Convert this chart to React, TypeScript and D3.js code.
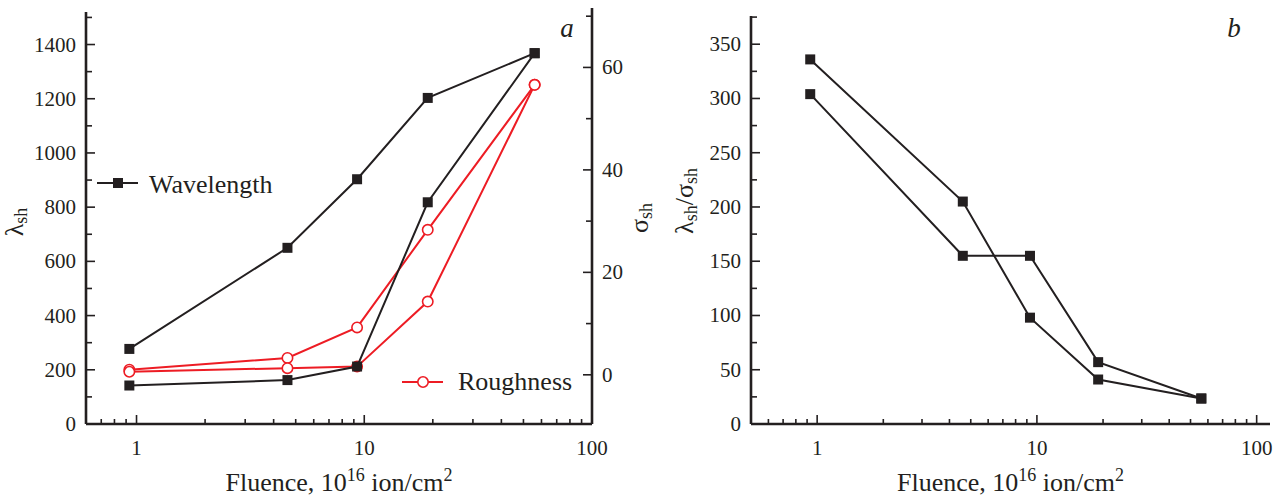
import React from "react";
import * as d3 from "d3";

// fluence, 10^16 ion/cm^2
const fluence = [0.93, 4.6, 9.3, 19, 56];

// panel a, left axis (wavelength)
const wavelengthUpper = [277, 650, 903, 1203, 1368];
const wavelengthLower = [142, 162, 212, 818, 1368];

// panel a, right axis (roughness)
const roughnessUpper = [1.0, 3.3, 9.25, 28.3, 56.6];
const roughnessLower = [0.6, 1.3, 1.6, 14.3, 56.6];

// panel b, ratio
const ratioUpper = [336, 205, 98, 41, 23.5];
const ratioLower = [304, 155, 155, 57, 23.5];

const leftTicksA = [0, 200, 400, 600, 800, 1000, 1200, 1400];
const leftMinorA = [100, 300, 500, 700, 900, 1100, 1300, 1500];
const rightTicksA = [0, 20, 40, 60];
const rightMinorA = [10, 30, 50, 70];
const ticksB = [0, 50, 100, 150, 200, 250, 300, 350];
const minorB = [25, 75, 125, 175, 225, 275, 325, 375];
const xMajor = [1, 10, 100];

const BLACK = "#231f20";
const RED = "#ed1c24";
const FONT = "'Liberation Serif', 'Times New Roman', serif";

function logMinor(lo: number, hi: number) {
  const out: number[] = [];
  for (let d = 0.1; d <= 100; d *= 10) {
    for (let k = 2; k <= 9; k++) {
      const v = +(k * d).toFixed(3);
      if (v > lo && v < hi && ![1, 10, 100].includes(v)) out.push(v);
    }
  }
  return out;
}

function Series({ x, y, vals, color, marker }: any) {
  const pts = fluence.map((f, i) => [x(f), y(vals[i])] as [number, number]);
  const line = d3.line();
  return (
    <g>
      <path d={line(pts) || ""} fill="none" stroke={color} strokeWidth={2} />
      {pts.map((p, i) =>
        marker === "square" ? (
          <rect key={i} x={p[0] - 5} y={p[1] - 5} width={10} height={10} fill={color} />
        ) : (
          <circle key={i} cx={p[0]} cy={p[1]} r={5.2} fill="#fff" stroke={color} strokeWidth={1.6} />
        )
      )}
    </g>
  );
}

function BottomAxis({ x, x0, x1, y0, minors }: any) {
  return (
    <g>
      <line x1={x0} x2={x1} y1={y0} y2={y0} stroke={BLACK} strokeWidth={2.6} />
      {minors.map((v: number) => (
        <line key={v} x1={x(v)} x2={x(v)} y1={y0} y2={y0 - 5} stroke={BLACK} strokeWidth={1.6} />
      ))}
      {xMajor.map((v) => (
        <g key={v}>
          <line x1={x(v)} x2={x(v)} y1={y0} y2={y0 - 9} stroke={BLACK} strokeWidth={1.6} />
          <text x={x(v)} y={455} textAnchor="middle" fontSize={21} fill={BLACK}>
            {v}
          </text>
        </g>
      ))}
      <text x={(x0 + x1) / 2} y={491} textAnchor="middle" fontSize={26} fill={BLACK}>
        Fluence, 10
        <tspan fontSize={18} dy={-10}>16</tspan>
        <tspan dy={10}> ion/cm</tspan>
        <tspan fontSize={18} dy={-10}>2</tspan>
      </text>
    </g>
  );
}

function VAxis({ y, x0, top, bottom, majors, minors, side }: any) {
  const dir = side === "left" ? 1 : -1;
  return (
    <g>
      <line x1={x0} x2={x0} y1={top} y2={bottom} stroke={BLACK} strokeWidth={2.6} />
      {minors.map((v: number) => (
        <line key={v} x1={x0} x2={x0 + dir * 6} y1={y(v)} y2={y(v)} stroke={BLACK} strokeWidth={1.6} />
      ))}
      {majors.map((v: number) => (
        <g key={v}>
          <line x1={x0} x2={x0 + dir * 9} y1={y(v)} y2={y(v)} stroke={BLACK} strokeWidth={1.6} />
          <text
            x={side === "left" ? x0 - 10 : x0 + 10}
            y={y(v) + 7}
            textAnchor={side === "left" ? "end" : "start"}
            fontSize={21}
            fill={BLACK}
          >
            {v}
          </text>
        </g>
      ))}
    </g>
  );
}

export default function App() {
  const bottom = 424;

  // panel a
  const xA = d3.scaleLog().domain([0.6, 100]).range([86, 592]);
  const yA = d3.scaleLinear().domain([0, 1520]).range([bottom, 12]);
  const yA2 = d3.scaleLinear().domain([-9.6, 71.6]).range([bottom, 8]);

  // panel b
  const xB = d3.scaleLog().domain([0.5, 115]).range([751, 1270]);
  const yB = d3.scaleLinear().domain([0, 376]).range([bottom, 16]);

  return (
    <svg width={1288} height={497} style={{ position: "absolute", left: 0, top: 0, fontFamily: FONT }}>
      <rect width={1288} height={497} fill="#fff" />

      {/* panel a */}
      <VAxis y={yA} x0={86} top={12} bottom={bottom} majors={leftTicksA} minors={leftMinorA} side="left" />
      <VAxis y={yA2} x0={592} top={8} bottom={bottom} majors={rightTicksA} minors={rightMinorA} side="right" />
      <BottomAxis x={xA} x0={86} x1={592} y0={bottom} minors={logMinor(0.6, 100)} />
      <Series x={xA} y={yA2} vals={roughnessUpper} color={RED} marker="circle" />
      <Series x={xA} y={yA2} vals={roughnessLower} color={RED} marker="circle" />
      <Series x={xA} y={yA} vals={wavelengthUpper} color={BLACK} marker="square" />
      <Series x={xA} y={yA} vals={wavelengthLower} color={BLACK} marker="square" />

      <text transform="translate(23,222) rotate(-90)" textAnchor="middle" fontSize={26} fill={BLACK}>
        λ<tspan fontSize={18} dy={4}>sh</tspan>
      </text>
      <text transform="translate(648,218) rotate(-90)" textAnchor="middle" fontSize={26} fill={BLACK}>
        σ<tspan fontSize={18} dy={4}>sh</tspan>
      </text>
      <text x={567} y={37} textAnchor="middle" fontSize={27} fontStyle="italic" fill={BLACK}>
        a
      </text>

      {/* legends */}
      <line x1={97} x2={138} y1={183} y2={183} stroke={BLACK} strokeWidth={2} />
      <rect x={113} y={178} width={10} height={10} fill={BLACK} />
      <text x={149} y={193} fontSize={26} fill={BLACK}>
        Wavelength
      </text>
      <line x1={402} x2={443} y1={382} y2={382} stroke={RED} strokeWidth={2} />
      <circle cx={423} cy={382} r={5.2} fill="#fff" stroke={RED} strokeWidth={1.6} />
      <text x={458} y={390} fontSize={26} fill={BLACK}>
        Roughness
      </text>

      {/* panel b */}
      <VAxis y={yB} x0={751} top={16} bottom={bottom} majors={ticksB} minors={minorB} side="left" />
      <BottomAxis x={xB} x0={751} x1={1270} y0={bottom} minors={logMinor(0.5, 115)} />
      <Series x={xB} y={yB} vals={ratioUpper} color={BLACK} marker="square" />
      <Series x={xB} y={yB} vals={ratioLower} color={BLACK} marker="square" />

      <text transform="translate(693,201) rotate(-90)" textAnchor="middle" fontSize={26} fill={BLACK}>
        λ<tspan fontSize={18} dy={4}>sh</tspan>
        <tspan dy={-4}>/σ</tspan>
        <tspan fontSize={18} dy={4}>sh</tspan>
      </text>
      <text x={1234} y={37} textAnchor="middle" fontSize={27} fontStyle="italic" fill={BLACK}>
        b
      </text>
    </svg>
  );
}
